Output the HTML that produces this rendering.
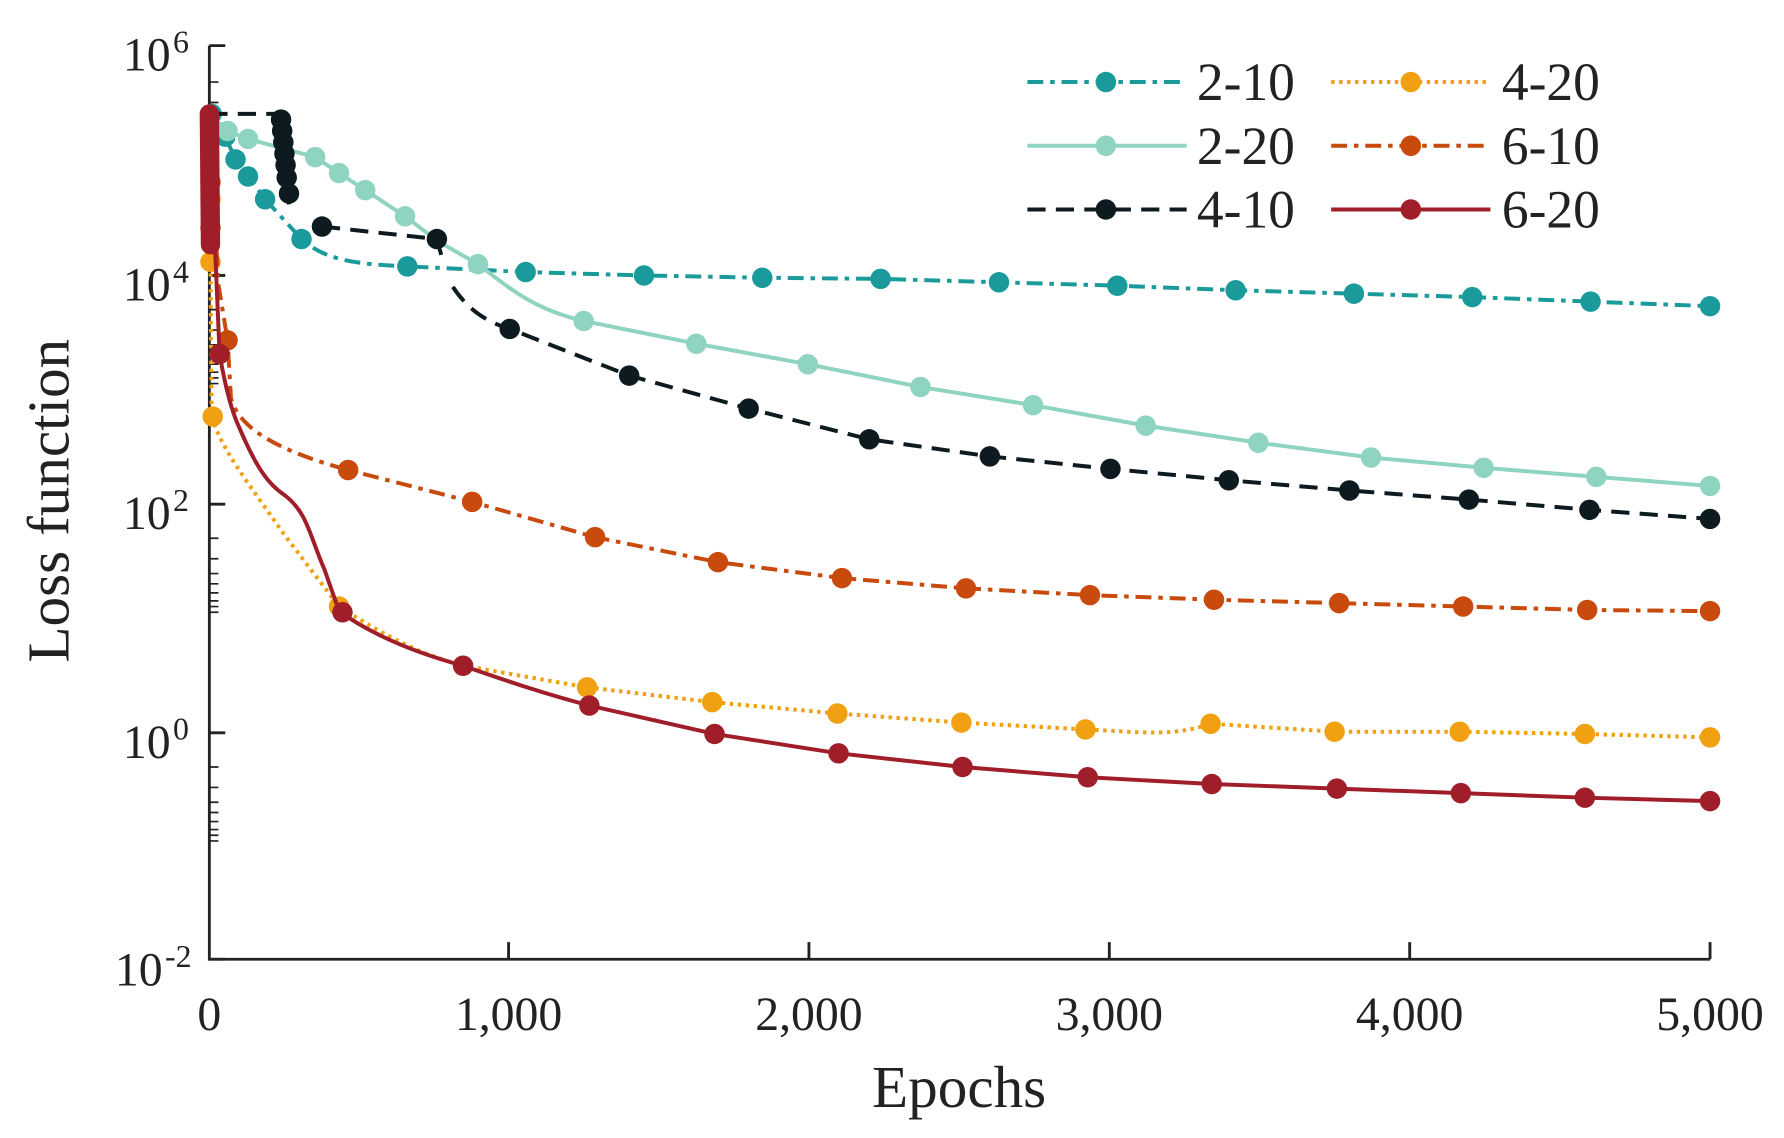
<!DOCTYPE html>
<html><head><meta charset="utf-8"><style>html,body{margin:0;padding:0;background:#fff}svg{display:block}</style></head>
<body>
<svg width="1784" height="1138" viewBox="0 0 1568 1000" xmlns="http://www.w3.org/2000/svg" font-family="Liberation Serif, serif">
<rect width="1568" height="1000" fill="#fff"/>
<g stroke="#222" stroke-width="2.5" fill="none">
<path d="M184,40 V843 H1503"/>
<path d="M447,843 v-15 M711,843 v-15 M975,843 v-15 M1239,843 v-15 M1503,843 v-15"/>
<path d="M184,40 h14 M184,242 h14 M184,443 h14 M184,644 h14 M184,843 h14"/>
</g>
<g stroke="#222" stroke-width="1.5">
<path d="M184,72h8M184,90h8M184,102h8M184,111h8M184,119h8M184,126h8M184,131h8M184,136h8
M184,272h8M184,290h8M184,303h8M184,312h8M184,320h8M184,327h8M184,332h8M184,337h8
M184,473h8M184,491h8M184,504h8M184,513h8M184,521h8M184,528h8M184,533h8M184,538h8
M184,674h8M184,692h8M184,705h8M184,714h8M184,722h8M184,729h8M184,734h8M184,739h8"/>
</g>
<g font-size="42" fill="#222" text-anchor="end">
<text x="150" y="62">10</text><text x="152" y="46" font-size="28" text-anchor="start">6</text>
<text x="150" y="264">10</text><text x="152" y="248" font-size="28" text-anchor="start">4</text>
<text x="150" y="465">10</text><text x="152" y="449" font-size="28" text-anchor="start">2</text>
<text x="150" y="666">10</text><text x="152" y="650" font-size="28" text-anchor="start">0</text>
<text x="143" y="866">10</text><text x="145" y="850" font-size="28" text-anchor="start">-2</text>
</g>
<g font-size="42" fill="#222" text-anchor="middle">
<text x="184" y="905">0</text><text x="447" y="905">1,000</text><text x="711" y="905">2,000</text>
<text x="975" y="905">3,000</text><text x="1239" y="905">4,000</text><text x="1503" y="905">5,000</text>
</g>
<text x="843" y="973" font-size="52" fill="#222" text-anchor="middle">Epochs</text>
<text transform="translate(60,440) rotate(-90)" font-size="52" fill="#222" text-anchor="middle">Loss function</text>

<g stroke="#1a9a9a" fill="#1a9a9a">
<path d="M184,100 L198,120 207,140 218,155 233,175 265,210 C285,228 310,232 358,234 L462,239 566,242 670,244 774,245 878,248 982,251 1086,255 1190,258 1294,261 1398,265 1503,269" fill="none" stroke-width="3.5" stroke-dasharray="14,6,4,6"/>
<g stroke="none"><circle cx="186" cy="100" r="9"/><circle cx="198" cy="120" r="9"/><circle cx="207" cy="140" r="9"/><circle cx="218" cy="155" r="9"/><circle cx="233" cy="175" r="9"/><circle cx="265" cy="210" r="9"/><circle cx="358" cy="234" r="9"/><circle cx="462" cy="239" r="9"/><circle cx="566" cy="242" r="9"/><circle cx="670" cy="244" r="9"/><circle cx="774" cy="245" r="9"/><circle cx="878" cy="248" r="9"/><circle cx="982" cy="251" r="9"/><circle cx="1086" cy="255" r="9"/><circle cx="1190" cy="258" r="9"/><circle cx="1294" cy="261" r="9"/><circle cx="1398" cy="265" r="9"/><circle cx="1503" cy="269" r="9"/></g>
</g>
<g stroke="#8fd4c0" fill="#8fd4c0">
<path d="M184,100 L200,115 218,122 277,138 298,152 321,167 356,190 385,212 420,232 C450,255 470,272 513,282 L612,302 710,320 809,340 908,356 1007,374 1106,389 1205,402 1304,411 1403,419 1503,427" fill="none" stroke-width="3.5"/>
<g stroke="none"><circle cx="200" cy="115" r="9"/><circle cx="218" cy="122" r="9"/><circle cx="277" cy="138" r="9"/><circle cx="298" cy="152" r="9"/><circle cx="321" cy="167" r="9"/><circle cx="356" cy="190" r="9"/><circle cx="420" cy="232" r="9"/><circle cx="513" cy="282" r="9"/><circle cx="612" cy="302" r="9"/><circle cx="710" cy="320" r="9"/><circle cx="809" cy="340" r="9"/><circle cx="908" cy="356" r="9"/><circle cx="1007" cy="374" r="9"/><circle cx="1106" cy="389" r="9"/><circle cx="1205" cy="402" r="9"/><circle cx="1304" cy="411" r="9"/><circle cx="1403" cy="419" r="9"/><circle cx="1503" cy="427" r="9"/></g>
</g>
<g stroke="#0d1a20" fill="#0d1a20">
<path d="M184,100 L245,100 L254,180 M283,199 L384,210 L390,232 M398,252 C410,270 425,282 448,289 L553,330 658,359 764,386 870,401 976,412 1080,422 1186,431 1291,439 1397,448 1503,456" fill="none" stroke-width="3.5" stroke-dasharray="16,9"/>
<g stroke="none"><circle cx="247" cy="105" r="9"/><circle cx="248" cy="115" r="9"/><circle cx="249" cy="125" r="9"/><circle cx="250" cy="135" r="9"/><circle cx="251" cy="145" r="9"/><circle cx="252" cy="156" r="9"/><circle cx="254" cy="170" r="9"/><circle cx="283" cy="199" r="9"/><circle cx="384" cy="210" r="9"/><circle cx="448" cy="289" r="9"/><circle cx="553" cy="330" r="9"/><circle cx="658" cy="359" r="9"/><circle cx="764" cy="386" r="9"/><circle cx="870" cy="401" r="9"/><circle cx="976" cy="412" r="9"/><circle cx="1080" cy="422" r="9"/><circle cx="1186" cy="431" r="9"/><circle cx="1291" cy="439" r="9"/><circle cx="1397" cy="448" r="9"/><circle cx="1503" cy="456" r="9"/></g>
</g>
<g stroke="#f0a010" fill="#f0a010">
<path d="M184,100 L186,366 C195,395 215,420 250,470 L298,533 C340,560 370,575 407,585 L516,604 626,617 736,627 845,635 954,641 C1000,643 1030,648 1064,636 L1173,643 1283,643 1393,645 1503,648" fill="none" stroke-width="3.5" stroke-dasharray="3,4"/>
<g stroke="none"><circle cx="185" cy="175" r="9"/><circle cx="185" cy="230" r="9"/><circle cx="187" cy="366" r="9"/><circle cx="298" cy="533" r="9"/><circle cx="407" cy="585" r="9"/><circle cx="516" cy="604" r="9"/><circle cx="626" cy="617" r="9"/><circle cx="736" cy="627" r="9"/><circle cx="845" cy="635" r="9"/><circle cx="954" cy="641" r="9"/><circle cx="1064" cy="636" r="9"/><circle cx="1173" cy="643" r="9"/><circle cx="1283" cy="643" r="9"/><circle cx="1393" cy="645" r="9"/><circle cx="1503" cy="648" r="9"/></g>
</g>
<g stroke="#c84a0c" fill="#c84a0c">
<path d="M184,100 L192,250 200,299 203,350 C210,375 240,395 306,413 L415,441 523,472 631,494 740,508 849,517 958,523 1067,527 1177,530 1286,533 1395,536 1503,537" fill="none" stroke-width="3.5" stroke-dasharray="14,6,4,6"/>
<g stroke="none"><circle cx="185" cy="160" r="9"/><circle cx="185" cy="200" r="9"/><circle cx="200" cy="299" r="9"/><circle cx="306" cy="413" r="9"/><circle cx="415" cy="441" r="9"/><circle cx="523" cy="472" r="9"/><circle cx="631" cy="494" r="9"/><circle cx="740" cy="508" r="9"/><circle cx="849" cy="517" r="9"/><circle cx="958" cy="523" r="9"/><circle cx="1067" cy="527" r="9"/><circle cx="1177" cy="530" r="9"/><circle cx="1286" cy="533" r="9"/><circle cx="1395" cy="536" r="9"/><circle cx="1503" cy="537" r="9"/></g>
</g>
<g stroke="#a01e2a" fill="#a01e2a">
<path d="M184,100 L193,311 C198,340 203,360 210,375 C225,410 235,425 250,435 C270,450 272,470 285,500 L298,537 C330,560 370,575 407,585 C450,600 480,610 518,620 L628,645 737,662 846,674 956,683 1065,689 1175,693 1284,697 1393,701 1503,704" fill="none" stroke-width="3.5"/>
<path d="M184,100 L185,215" stroke-width="17" stroke-linecap="round"/>
<g stroke="none"><circle cx="193" cy="311" r="9"/><circle cx="301" cy="538" r="9"/><circle cx="407" cy="585" r="9"/><circle cx="518" cy="620" r="9"/><circle cx="628" cy="645" r="9"/><circle cx="737" cy="662" r="9"/><circle cx="846" cy="674" r="9"/><circle cx="956" cy="683" r="9"/><circle cx="1065" cy="689" r="9"/><circle cx="1175" cy="693" r="9"/><circle cx="1284" cy="697" r="9"/><circle cx="1393" cy="701" r="9"/><circle cx="1503" cy="704" r="9"/></g>
</g>

<g stroke-width="3.5" fill="none">
<path d="M903,72 H1043" stroke="#1a9a9a" stroke-dasharray="14,6,4,6"/>
<path d="M903,128 H1043" stroke="#8fd4c0"/>
<path d="M903,184 H1043" stroke="#0d1a20" stroke-dasharray="16,9"/>
<path d="M1170,72 H1310" stroke="#f0a010" stroke-dasharray="3,4"/>
<path d="M1170,128 H1310" stroke="#c84a0c" stroke-dasharray="14,6,4,6"/>
<path d="M1170,184 H1310" stroke="#a01e2a"/>
</g>
<circle cx="972" cy="72" r="9" fill="#1a9a9a"/><circle cx="972" cy="128" r="9" fill="#8fd4c0"/><circle cx="972" cy="184" r="9" fill="#0d1a20"/>
<circle cx="1240" cy="72" r="9" fill="#f0a010"/><circle cx="1240" cy="128" r="9" fill="#c84a0c"/><circle cx="1240" cy="184" r="9" fill="#a01e2a"/>
<g font-size="47" fill="#222">
<text x="1052" y="88">2-10</text><text x="1052" y="144">2-20</text><text x="1052" y="200">4-10</text>
<text x="1320" y="88">4-20</text><text x="1320" y="144">6-10</text><text x="1320" y="200">6-20</text>
</g>
</svg>
</body></html>
